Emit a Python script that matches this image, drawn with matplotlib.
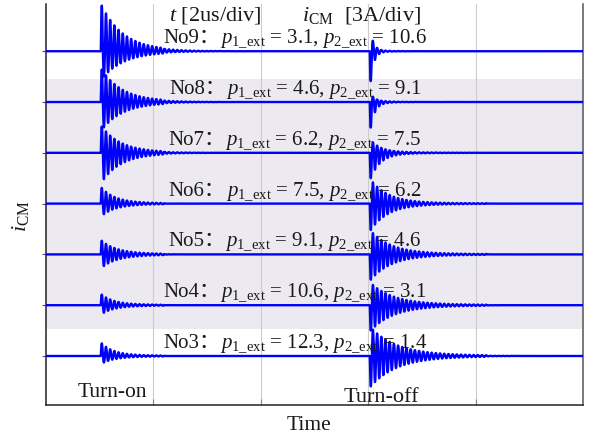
import numpy as np
import matplotlib
matplotlib.use("Agg")
import matplotlib.pyplot as plt
from matplotlib.offsetbox import TextArea, HPacker, AnnotationBbox

plt.rcParams['font.family'] = ['Liberation Serif', 'Noto Sans CJK SC']
plt.rcParams['mathtext.fontset'] = 'custom'
plt.rcParams['mathtext.rm'] = 'Liberation Serif'
plt.rcParams['mathtext.it'] = 'Liberation Serif:italic'

# cases, top to bottom
cases = ["No9", "No8", "No7", "No6", "No5", "No4", "No3"]
p1_ext = ["3.1", "4.6", "6.2", "7.5", "9.1", "10.6", "12.3"]
p2_ext = ["10.6", "9.1", "7.5", "6.2", "4.6", "3.1", "1.4"]
offsets = [6, 5, 4, 3, 2, 1, 0]

# turn-on ringing: first (positive) swing, second (negative) swing, decay [us]
on_first = [0.87, 0.61, 0.49, 0.28, 0.24, 0.18, 0.22]
on_second = [0.47, 0.47, 0.49, 0.18, 0.20, 0.12, 0.10]
on_tau = [0.40, 0.38, 0.35, 0.25, 0.28, 0.22, 0.22]
# turn-off ringing: first (negative) swing, second (positive) swing, decay [us]
off_first = [0.55, 0.47, 0.47, 0.49, 0.47, 0.47, 0.57]
off_second = [0.18, 0.08, 0.18, 0.39, 0.39, 0.37, 0.49]
off_tau = [0.06, 0.08, 0.18, 0.32, 0.38, 0.42, 0.48]

t_on, t_off = 1.02, 6.03       # switching instants [us]
t_on_end, t_off_end = 2.2, 8.2  # end of residual ripple [us]
f_ring = 12.8                   # ringing frequency [MHz]
ripple = 0.03                   # residual ripple amplitude

t = np.linspace(0, 10, 6001)


def ringing(t0, first, second, tau, sign, t_end):
    d = np.clip(t - t0, 0, None)
    s = np.sin(2 * np.pi * f_ring * d)
    d1 = 0.25 / f_ring
    d2 = 0.75 / f_ring
    y = np.where(s > 0,
                 first * s * np.exp(-(d - d1) / tau),
                 second * s * np.exp(-(d - d2) / tau))
    y = y + ripple * s * np.exp(-d / (4 * tau)) * (t < t_end)
    return sign * y * (t >= t0)


fig = plt.figure(figsize=(5.95, 4.38), dpi=100)
ax = fig.add_axes([0.0773, 0.0753, 0.9025, 0.9156])

ax.axhspan(0.53, 5.45, color='#ECEAF0', zorder=0, lw=0)

for i, name in enumerate(cases):
    y = offsets[i] \
        + ringing(t_on, on_first[i], on_second[i], on_tau[i], 1, t_on_end) \
        + ringing(t_off, off_first[i], off_second[i], off_tau[i], -1, t_off_end)
    ax.plot(t, y, color='#0000FF', lw=1.7, zorder=3)

    head = TextArea(name + "：", textprops=dict(fontsize=15, color='#1a1a1a'))
    body = TextArea(r"$p_{1\_\mathrm{ext}}$ = " + p1_ext[i] + r", $p_{2\_\mathrm{ext}}$ = " + p2_ext[i],
                    textprops=dict(fontsize=15, color='#1a1a1a', family='Liberation Serif'))
    box = HPacker(children=[head, body], align='baseline', pad=0, sep=0)
    ab = AnnotationBbox(box, (4.64, offsets[i] + 0.02), xycoords='data',
                        box_alignment=(0.5, 0.0), frameon=False, pad=0, zorder=4)
    ax.add_artist(ab)

ax.text(3.15, 6.61, r"$t$ [2us/div]", fontsize=16, ha='center', va='baseline', color='#1a1a1a')
ax.text(5.88, 6.61, r"$i_{\mathrm{CM}}$  [3A/div]", fontsize=16, ha='center', va='baseline', color='#1a1a1a')
ax.text(1.23, -0.81, "Turn-on", fontsize=15.5, ha='center', va='baseline', color='#1a1a1a')
ax.text(6.24, -0.905, "Turn-off", fontsize=16, ha='center', va='baseline', color='#1a1a1a', zorder=5)

ax.set_xlim(0, 10)
ax.set_ylim(-0.965, 6.93)
ax.set_xticks([2, 4, 6, 8])
ax.set_xticklabels([])
ax.set_yticks(offsets)
ax.set_yticklabels([])
ax.tick_params(axis='x', direction='in', length=4, color='#888888')
ax.tick_params(axis='y', direction='out', length=3, color='#555555')
ax.grid(axis='x', color='#cccccc', lw=0.8, zorder=1)
ax.set_axisbelow(True)

ax.spines['top'].set_visible(False)
for side in ['left', 'bottom']:
    ax.spines[side].set_color('#222222')
    ax.spines[side].set_linewidth(1.1)
ax.spines['right'].set_color('#555555')
ax.spines['right'].set_linewidth(1.1)

ax.set_xlabel("Time", fontsize=15.5, color='#1a1a1a')
ax.xaxis.set_label_coords(0.49, -0.027)
ax.xaxis.label.set_va('top')
ax.set_ylabel(r"$i_{\mathrm{CM}}$", fontsize=16, color='#1a1a1a')
ax.yaxis.set_label_coords(-0.028, 0.47)

fig.savefig("out.png", dpi=100)
